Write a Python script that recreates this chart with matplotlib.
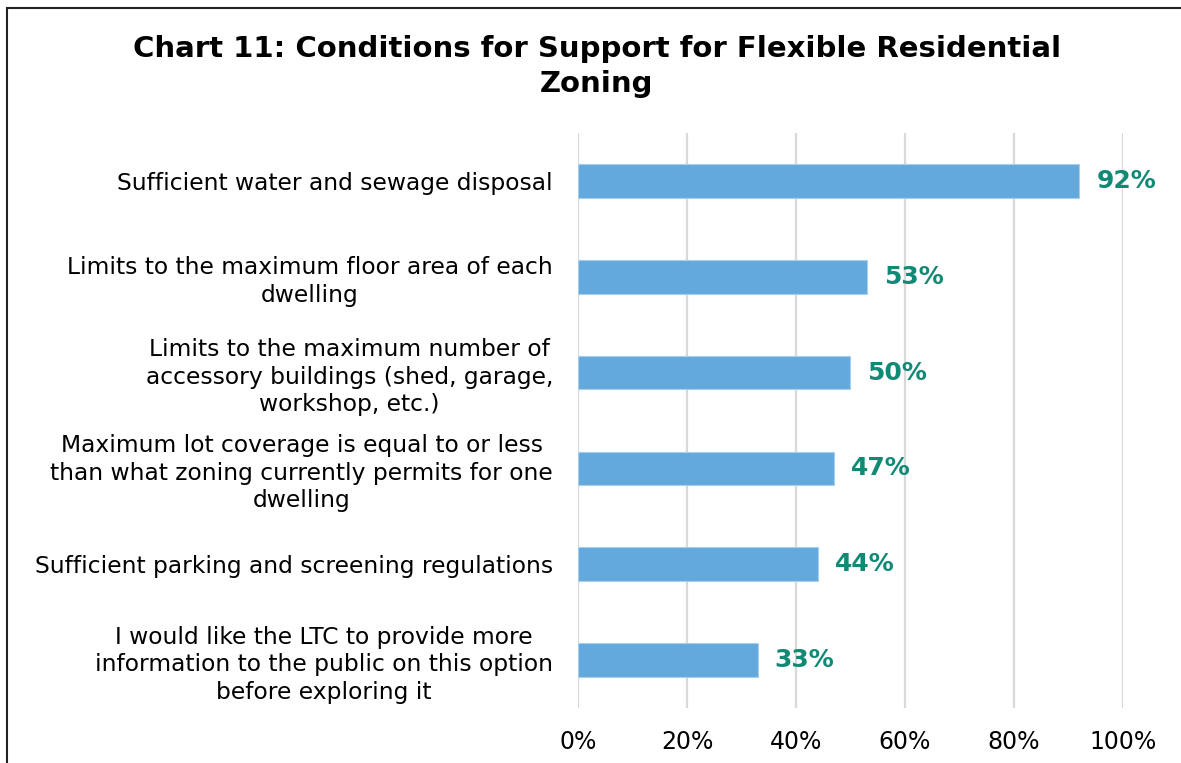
import numpy as np
import matplotlib.pyplot as plt
from matplotlib.patches import Rectangle
from matplotlib.ticker import FuncFormatter

# data (top to bottom)
labels = [
    "Sufficient water and sewage disposal",
    "Limits to the maximum floor area of each\ndwelling",
    "Limits to the maximum number of\naccessory buildings (shed, garage,\nworkshop, etc.)",
    "Maximum lot coverage is equal to or less\nthan what zoning currently permits for one\ndwelling",
    "Sufficient parking and screening regulations",
    "I would like the LTC to provide more\ninformation to the public on this option\nbefore exploring it",
]
values = [92, 53, 50, 47, 44, 33]

plt.rcParams['font.family'] = ['DejaVu Sans']

fig = plt.figure(figsize=(11.81, 7.63), dpi=100)
ax = fig.add_axes([0.4894, 0.0721, 0.4615, 0.7536])

y = np.arange(len(labels))
ax.barh(y, values, height=0.35, color='#64a9dc', edgecolor='#a9cff0', linewidth=0.8, zorder=3)

for yi, v in zip(y, values):
    ax.text(v + 3.1, yi, f"{v}%", va='center', ha='left', fontsize=18,
            fontweight='bold', color='#108a74', zorder=4)

ax.set_yticks(y)
ax.set_yticklabels(labels, fontsize=16.8)
for lab in ax.get_yticklabels():
    lab.set_multialignment('center')
    lab.set_linespacing(1.24)
ax.set_ylim(len(labels) - 0.5, -0.5)

ax.set_xlim(0, 100)
ax.set_xticks(np.arange(0, 101, 20))
ax.xaxis.set_major_formatter(FuncFormatter(lambda v, p: f"{v:.0f}%"))
ax.tick_params(axis='x', labelsize=17, length=0, pad=16)
ax.tick_params(axis='y', length=0, pad=18)
ax.grid(axis='x', color='#d9d9d9', linewidth=1.6, zorder=0)
for s in ax.spines.values():
    s.set_visible(False)

fig.text(0.5055, 0.913, "Chart 11: Conditions for Support for Flexible Residential\nZoning",
         ha='center', va='center', fontsize=21, fontweight='bold', linespacing=1.32)

# outer border (cut at right and bottom)
fig.patches.append(Rectangle((7 / 1181, -0.1), 1.2, 1.1 - 8 / 763, transform=fig.transFigure,
                             fill=False, edgecolor='#222222', linewidth=1.5))

fig.savefig('out.png', dpi=100)
